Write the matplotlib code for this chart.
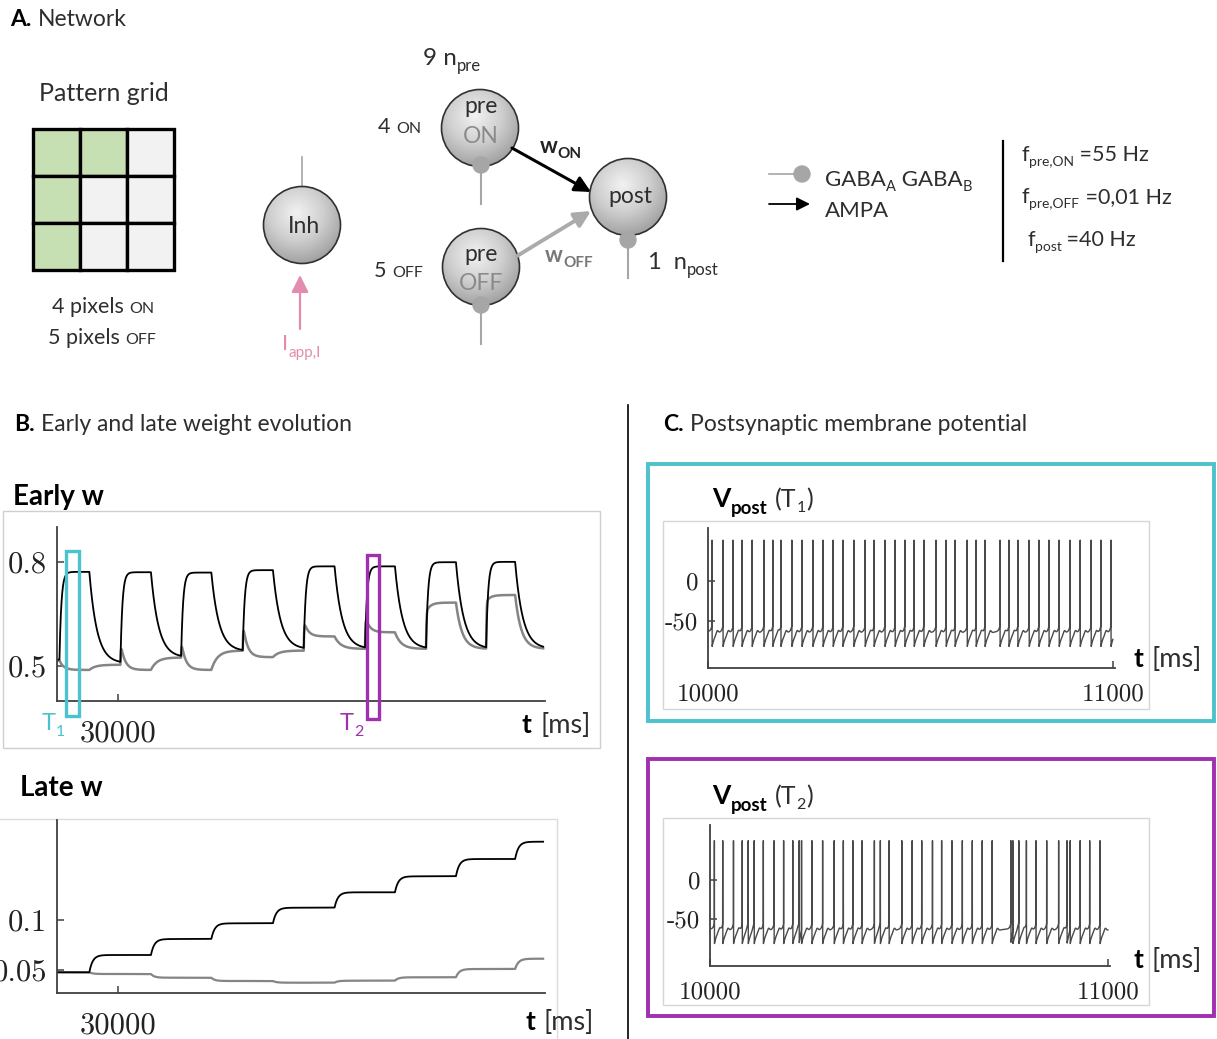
import numpy as np
import matplotlib
matplotlib.use("Agg")
import matplotlib.pyplot as plt
from matplotlib.patches import Circle, Rectangle, FancyArrowPatch
from matplotlib.colors import LinearSegmentedColormap
from matplotlib.ticker import FixedLocator, FixedFormatter

W, H = 1217, 1039
SANS = ["Lato", "DejaVu Sans"]
SERIF = "cmr10"
INK = "#2e2e2e"
THIN = "normal"
CYAN = "#4cc3cc"
PURPLE = "#a030b0"
PINK = "#e38caf"
STALK = "#a6a6a6"

# pattern grid (1 = ON pixel)
grid = [[1, 1, 0],
        [1, 0, 0],
        [1, 0, 0]]

# stimulation pulses (ms)
pulse_on = [20400, 30400, 40350, 50450, 60450, 70500, 80500, 90350]
pulse_off = [25300, 35400, 45300, 55400, 65500, 75400, 85400, 95100]

# early weights: ON synapse (black)
won_start = 0.518
won_plateau = [0.772, 0.771, 0.770, 0.777, 0.788, 0.788, 0.800, 0.801]
won_rest = [0.507, 0.524, 0.542, 0.548, 0.549, 0.549, 0.549, 0.549]
# early weights: OFF synapse (gray)
woff_start = 0.515
woff_jump = [0.515, 0.568, 0.573, 0.626, 0.631, 0.646, 0.656, 0.686]
woff_plateau = [0.488, 0.488, 0.488, 0.525, 0.585, 0.597, 0.683, 0.705]
woff_rest = [0.503, 0.524, 0.544, 0.544, 0.549, 0.549, 0.549, 0.549]

# late weights, level after each pulse
late_on = [0.0477, 0.065, 0.081, 0.0967, 0.1123, 0.1277, 0.1437, 0.161, 0.1783]
late_off = [0.0477, 0.046, 0.0423, 0.039, 0.0373, 0.0393, 0.0427, 0.051, 0.0613]

# postsynaptic spike times (ms)
spikes_t1 = [10010, 10037, 10062, 10084, 10109, 10138, 10160, 10180, 10207, 10232,
             10259, 10284, 10309, 10333, 10360, 10388, 10410, 10437, 10462, 10486,
             10509, 10533, 10563, 10588, 10610, 10640, 10662, 10684, 10721, 10743,
             10765, 10793, 10817, 10842, 10867, 10894, 10919, 10946, 10970, 10995]
spikes_t2 = [10011, 10032, 10059, 10081, 10096, 10111, 10134, 10161, 10185, 10208,
             10224, 10230, 10256, 10283, 10312, 10335, 10359, 10382, 10413, 10428,
             10450, 10482, 10508, 10532, 10559, 10582, 10608, 10634, 10659, 10684,
             10709, 10756, 10761, 10776, 10795, 10819, 10846, 10876, 10897, 10905,
             10930, 10954, 10980]


def early_trace(t, start, jump, plateau, rest, tau_rise, tau_relax, tau_fall):
    v = np.full(t.shape, start, dtype=float)
    level = start
    n = len(pulse_on)
    for k in range(n):
        on, off = pulse_on[k], pulse_off[k]
        m = (t >= on) & (t < off)
        dt = t[m] - on
        target = plateau[k] + (jump[k] - plateau[k]) * np.exp(-dt / tau_relax)
        v[m] = level + (target - level) * (1 - np.exp(-dt / tau_rise))
        d = off - on
        tgt = plateau[k] + (jump[k] - plateau[k]) * np.exp(-d / tau_relax)
        at_off = level + (tgt - level) * (1 - np.exp(-d / tau_rise))
        nxt = pulse_on[k + 1] if k + 1 < n else t[-1] + 1
        m = (t >= off) & (t < nxt)
        v[m] = rest[k] + (at_off - rest[k]) * np.exp(-(t[m] - off) / tau_fall)
        level = rest[k] + (at_off - rest[k]) * np.exp(-(nxt - off) / tau_fall)
    return v


def late_trace(t, levels, tau=550.0):
    v = np.full(t.shape, levels[0], dtype=float)
    for k, off in enumerate(pulse_off):
        m = t >= off
        v[m] = levels[k] + (levels[k + 1] - levels[k]) * (1 - np.exp(-(t[m] - off) / tau))
    return v


def v_trace(t, spikes):
    s = np.asarray(spikes, dtype=float)
    i = np.searchsorted(s, t, side="right") - 1
    prev = np.where(i >= 0, t - s[np.clip(i, 0, None)], 1e3)
    j = np.clip(i + 1, 0, len(s) - 1)
    nxt = np.where(i + 1 < len(s), s[j] - t, 1e3)
    v = -63.0 - 19.0 * np.exp(-prev / 7.0) + 4.0 * np.exp(-((prev - 13.0) / 3.5) ** 2)
    v += 8.0 * np.exp(-nxt / 3.0)
    for sp in s:
        v[np.argmin(np.abs(t - sp))] = 50.0
    return v


fig = plt.figure(figsize=(W / 100, H / 100), dpi=100)
fig.patch.set_facecolor("white")


def overlay(z):
    a = fig.add_axes([0, 0, 1, 1], zorder=z)
    a.set_xlim(0, W)
    a.set_ylim(H, 0)
    a.axis("off")
    a.patch.set_alpha(0)
    return a


back = overlay(0)
front = overlay(10)
renderer = fig.canvas.get_renderer()


def rich(ax, x, y, parts):
    # parts: (text, size, dy, weight, color)
    for s, size, dy, weight, color in parts:
        t = ax.text(x, y + dy, s, fontsize=size, fontweight=weight, color=color,
                    family=SANS, va="baseline", ha="left", zorder=6)
        x += t.get_window_extent(renderer).width
    return x


def neuron(cx, cy, r=38.5):
    c = Circle((cx, cy), r, facecolor="none", edgecolor="#303030", lw=1.2, zorder=3)
    back.add_patch(c)
    yy, xx = np.mgrid[-1:1:200j, -1:1:200j]
    rad = np.hypot(xx + 0.15, yy + 0.3)
    cmap = LinearSegmentedColormap.from_list("g", ["#f2f2f2", "#cfcfcf", "#9c9c9c"])
    im = back.imshow(rad, cmap=cmap, vmin=0, vmax=1.4, extent=[cx - r, cx + r, cy + r, cy - r],
                     aspect="auto", zorder=2, interpolation="bilinear")
    im.set_clip_path(c)


def stalk(x, y0, y1):
    back.plot([x, x], [y0, y1], color=STALK, lw=1.5, zorder=1)
    back.add_patch(Circle((x, y0), 8, color=STALK, zorder=4))


def arrow(p0, p1, color, lw, ms=22):
    back.add_patch(FancyArrowPatch(p0, p1, arrowstyle="-|>", mutation_scale=ms, lw=lw,
                                   color=color, shrinkA=0, shrinkB=0, zorder=5))


# ---------------- panel A ----------------
x = rich(back, 10, 26, [("A.", 16.5, 0, "bold", "black")])
rich(back, x + 6, 26, [("Network", 16.5, 0, THIN, INK)])
back.text(104, 101, "Pattern grid", fontsize=18, fontweight=THIN, color=INK,
          family=SANS, ha="center", va="baseline")

gx0, gy0, cell = 32.5, 128.5, 47.2
for r in range(3):
    for c in range(3):
        back.add_patch(Rectangle((gx0 + c * cell, gy0 + r * cell), cell, cell,
                                 facecolor="#c6e0b4" if grid[r][c] else "#f2f2f2",
                                 edgecolor="black", lw=2.4, zorder=2))

x = rich(back, 52, 313, [("4 pixels ", 15.5, 0, THIN, INK)])
rich(back, x, 313, [("ON", 11.5, 0, THIN, INK)])
x = rich(back, 48, 344, [("5 pixels ", 15.5, 0, THIN, INK)])
rich(back, x, 344, [("OFF", 11.5, 0, THIN, INK)])

# inhibitory neuron
back.plot([302, 302], [157, 187], color=STALK, lw=1.2, zorder=1)
neuron(302, 225)
back.text(304, 233, "Inh", fontsize=16.5, fontweight=THIN, color=INK, family=SANS,
          ha="center", va="baseline", zorder=6)
arrow((300, 329), (300, 275), PINK, 1.6, ms=26)
rich(back, 282, 350, [("I", 16, 0, THIN, PINK), ("app,I", 11, 7, THIN, PINK)])

# pre / post neurons
stalk(481, 165, 204)
stalk(481, 305, 344)
stalk(628, 240, 278)
neuron(480, 128)
neuron(481, 267)
neuron(628, 197)
for cx, cy, s, col in [(481, 113, "pre", INK), (481, 143, "ON", "#8a8a8a"),
                       (481, 261, "pre", INK), (481, 290, "OFF", "#8a8a8a"),
                       (630, 203, "post", INK)]:
    back.text(cx, cy, s, fontsize=16.5, fontweight=THIN, color=col, family=SANS,
              ha="center", va="baseline", zorder=6)

rich(back, 423, 65, [("9 n", 17.5, 0, THIN, INK), ("pre", 12, 6, THIN, INK)])
x = rich(back, 378, 133, [("4 ", 15.5, 0, THIN, INK)])
rich(back, x, 133, [("ON", 11.5, 0, THIN, INK)])
x = rich(back, 374, 277, [("5 ", 15.5, 0, THIN, INK)])
rich(back, x, 277, [("OFF", 11.5, 0, THIN, INK)])
rich(back, 648, 269, [("1  n", 17, 0, THIN, INK), ("post", 12, 6, THIN, INK)])

arrow((512, 148), (591, 192), "black", 2.2, ms=24)
arrow((517, 256), (591, 211), "#ababab", 2.8, ms=24)
rich(back, 540, 153, [("w", 16, 0, "bold", "#222222"), ("ON", 11, 5, "bold", "#222222")])
rich(back, 545, 262, [("w", 16, 0, "bold", "#777777"), ("OFF", 11, 5, "bold", "#777777")])

# synapse legend
back.plot([769, 800], [174, 174], color=STALK, lw=1.2)
back.add_patch(Circle((802, 174), 8, color=STALK))
arrow((769, 204), (810, 204), "black", 1.3, ms=20)
rich(back, 825, 186, [("GABA", 16, 0, THIN, INK), ("A", 10.5, 5, THIN, INK),
                      (" GABA", 16, 0, THIN, INK), ("B", 10.5, 5, THIN, INK)])
rich(back, 825, 217, [("AMPA", 16, 0, THIN, INK)])

back.plot([1003, 1003], [141, 261], color="black", lw=1.6)
rich(back, 1022, 161, [("f", 15.5, 0, THIN, INK), ("pre,ON", 10, 5, THIN, INK),
                       (" =55 Hz", 15.5, 0, THIN, INK)])
rich(back, 1022, 203, [("f", 15.5, 0, THIN, INK), ("pre,OFF", 10, 5, THIN, INK),
                       (" =0,01 Hz", 15.5, 0, THIN, INK)])
rich(back, 1027, 246, [("f", 15.5, 0, THIN, INK), ("post", 10, 5, THIN, INK),
                       (" =40 Hz", 15.5, 0, THIN, INK)])

# ---------------- panel titles ----------------
x = rich(back, 14, 431, [("B.", 16.5, 0, "bold", "black")])
rich(back, x + 6, 431, [("Early and late weight evolution", 16.5, 0, THIN, INK)])
x = rich(back, 663, 431, [("C.", 16.5, 0, "bold", "black")])
rich(back, x + 6, 431, [("Postsynaptic membrane potential", 16.5, 0, THIN, INK)])
back.plot([628, 628], [405, 1039], color="black", lw=1.2)


def data_axes(x0, y0, x1, y1):
    a = fig.add_axes([x0 / W, 1 - y1 / H, (x1 - x0) / W, (y1 - y0) / H], zorder=5)
    a.patch.set_alpha(0)
    for s in ("top", "right"):
        a.spines[s].set_visible(False)
    for s in ("left", "bottom"):
        a.spines[s].set_color("#404040")
        a.spines[s].set_linewidth(1.3)
    a.tick_params(direction="in", length=5, width=1.1, color="#404040", labelcolor="#222222")
    return a


def set_ticks(a, xt, xl, yt, yl, size, xpad, ypad):
    a.xaxis.set_major_locator(FixedLocator(xt))
    a.xaxis.set_major_formatter(FixedFormatter(xl))
    a.yaxis.set_major_locator(FixedLocator(yt))
    a.yaxis.set_major_formatter(FixedFormatter(yl))
    a.tick_params(axis="x", pad=xpad, labelsize=size)
    a.tick_params(axis="y", pad=ypad, labelsize=size)
    for lab in a.get_xticklabels() + a.get_yticklabels():
        lab.set_family(SERIF)


def t_ms(x, y):
    x = rich(front, x, y, [("t", 19, 0, "bold", "black")])
    rich(front, x + 9, y, [("[ms]", 19.5, 0, THIN, INK)])


# early w
back.add_patch(Rectangle((3, 511), 597, 237, facecolor="none", edgecolor="#cfcfcf", lw=1))
rich(back, 13, 505, [("Early w", 20, 0, "bold", "black")])
ax_e = data_axes(57, 527, 545, 701)
te = np.arange(20000, 99700, 5.0)
ax_e.plot(te, early_trace(te, woff_start, woff_jump, woff_plateau, woff_rest, 60, 700, 1000),
          color="#858585", lw=1.8)
ax_e.plot(te, early_trace(te, won_start, won_plateau, won_plateau, won_rest, 320, 700, 1250),
          color="black", lw=1.3)
ax_e.set_xlim(20000, 100000)
ax_e.set_ylim(0.398, 0.902)
set_ticks(ax_e, [30000], ["30000"], [0.5, 0.8], ["0.5", "0.8"], 22, 14, 7)
t_ms(522, 733)

front.add_patch(Rectangle((66, 551), 13, 165, facecolor="none", edgecolor=CYAN, lw=2.4))
front.add_patch(Rectangle((367, 555), 12, 164, facecolor="none", edgecolor=PURPLE, lw=2.4))
rich(front, 42, 730, [("T", 17, 0, THIN, CYAN), ("1", 11.5, 6, THIN, CYAN)])
rich(front, 340, 730, [("T", 17, 0, THIN, PURPLE), ("2", 11.5, 6, THIN, PURPLE)])

# late w
back.plot([0, 557, 557], [819, 819, 1039], color="#dcdcdc", lw=1)
rich(back, 20, 796, [("Late w", 20, 0, "bold", "black")])
ax_l = data_axes(57, 820, 545, 993)
ax_l.plot(te, late_trace(te, late_off), color="#858585", lw=1.6)
ax_l.plot(te, late_trace(te, late_on), color="black", lw=1.3)
ax_l.set_xlim(20000, 100000)
ax_l.set_ylim(0.027, 0.2)
set_ticks(ax_l, [30000], ["30000"], [0.05, 0.1], ["0.05", "0.1"], 22, 14, 7)
t_ms(525, 1030)

# membrane potentials
tv = np.arange(10000, 11000, 0.25)
for (fy0, fy1, iy0, iy1, ay0, ay1, ax0, ax1, x11, col, spk, ylim, idx, ty) in [
        (464, 721, 521, 709, 528, 668, 708, 1115, 1113, CYAN, spikes_t1, (-108, 65), "1", 667),
        (759, 1016, 818, 1005, 825, 966, 710, 1110, 1108, PURPLE, spikes_t2, (-110, 70), "2", 968)]:
    back.add_patch(Rectangle((648, fy0), 566, fy1 - fy0, facecolor="none", edgecolor=col, lw=2.8))
    back.add_patch(Rectangle((663, iy0), 486, iy1 - iy0, facecolor="none", edgecolor="#d6d6d6", lw=1))
    a = data_axes(ax0, ay0, ax1, ay1)
    a.plot(tv, v_trace(tv, spk), color="#4a4a4a", lw=1.0)
    a.set_xlim(10000, 10000 + 1000 * (ax1 - ax0) / (x11 - ax0))
    a.set_ylim(*ylim)
    set_ticks(a, [10000, 11000], ["10000", "11000"], [-50, 0], ["-50", "0"], 18, 11, 7)
    base = fy0 + 43 if idx == "1" else fy0 + 45
    x = rich(back, 712, base, [("V", 19, 0, "bold", "black"), ("post", 13.5, 7, "bold", "black")])
    rich(back, x + 8, base,
         [("(T", 18, 0, THIN, INK), (idx, 11.5, 5, THIN, INK), (")", 18, 0, THIN, INK)])
    t_ms(1133, ty)

fig.savefig("out.png", dpi=100)
